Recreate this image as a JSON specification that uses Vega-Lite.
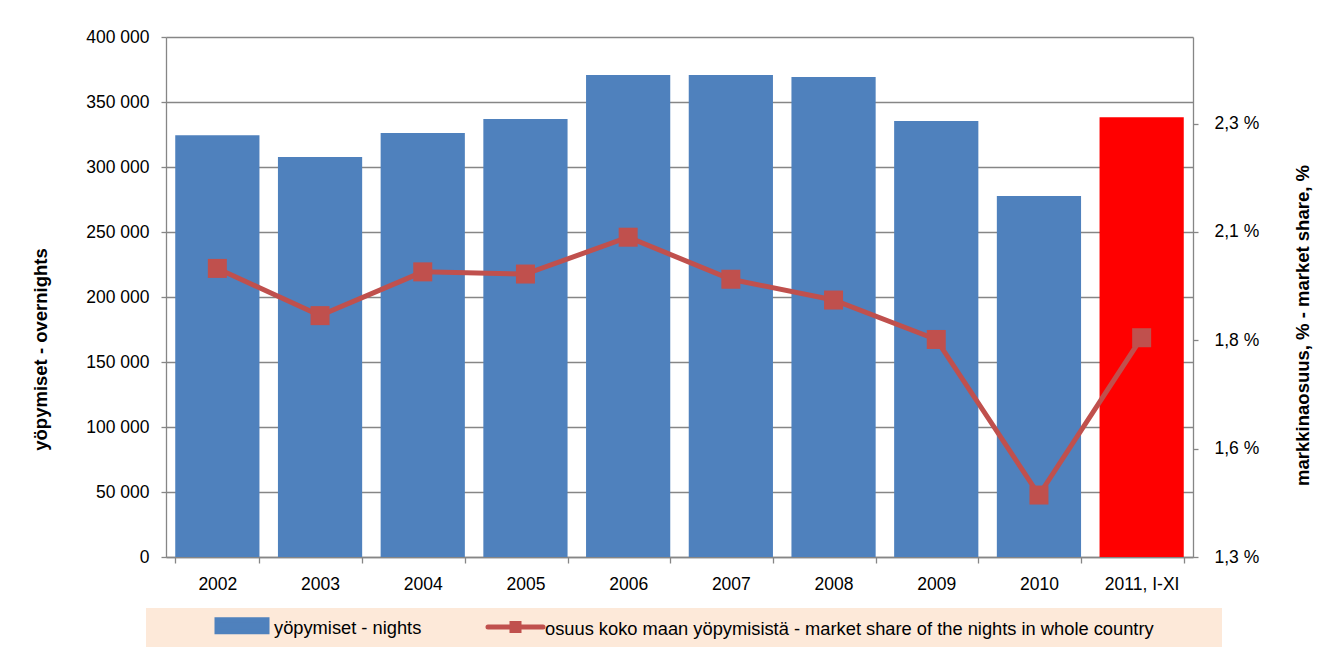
{
  "$schema": "https://vega.github.io/schema/vega-lite/v6.json",
  "width": 1027,
  "height": 520,
  "autosize": {"type": "none"},
  "padding": {"left": 166, "top": 37, "right": 142, "bottom": 102},
  "background": "white",
  "data": {
    "values": [
      {"year": "2002", "nights": 324500, "share": 1.966},
      {"year": "2003", "nights": 307700, "share": 1.857},
      {"year": "2004", "nights": 326100, "share": 1.958},
      {"year": "2005", "nights": 336900, "share": 1.953},
      {"year": "2006", "nights": 370700, "share": 2.038},
      {"year": "2007", "nights": 370700, "share": 1.941},
      {"year": "2008", "nights": 369200, "share": 1.893},
      {"year": "2009", "nights": 335400, "share": 1.802},
      {"year": "2010", "nights": 277700, "share": 1.443},
      {"year": "2011, I-XI", "nights": 338200, "share": 1.806}
    ]
  },
  "layer": [
    {
      "mark": {"type": "bar"},
      "encoding": {
        "x": {
          "field": "year",
          "type": "nominal",
          "sort": null,
          "scale": {"paddingInner": 0.18, "paddingOuter": 0.09},
          "axis": {
            "title": null,
            "labelAngle": 0,
            "tickBand": "extent",
            "tickSize": 6,
            "labelPadding": 12,
            "grid": false
          }
        },
        "y": {
          "field": "nights",
          "type": "quantitative",
          "scale": {"domain": [0, 400000], "nice": false},
          "axis": {
            "orient": "left",
            "title": "yöpymiset - overnights",
            "values": [0, 50000, 100000, 150000, 200000, 250000, 300000, 350000, 400000],
            "labelExpr": "replace(format(datum.value, ','), ',', ' ')",
            "grid": true,
            "tickSize": 5,
            "labelPadding": 12,
            "titleX": -126,
            "titleY": 312,
            "titleAngle": 270,
            "titleBaseline": "middle",
            "titleAlign": "center"
          }
        },
        "color": {
          "condition": {"test": "datum.year === '2011, I-XI'", "value": "#FF0000"},
          "datum": "yöpymiset - nights",
          "type": "nominal",
          "scale": {
            "domain": ["yöpymiset - nights", "osuus koko maan yöpymisistä - market share of the nights in whole country"],
            "range": ["#4F81BD", "#C0504D"]
          },
          "legend": {
            "title": "\u00a0",
            "titleOrient": "right",
            "titlePadding": 63,
            "titleFontSize": 18,
            "orient": "none",
            "legendX": -20,
            "legendY": 571,
            "direction": "horizontal",
            "columns": 2,
            "columnPadding": 0,
            "padding": 5,
            "fillColor": "#FDE9D9",
            "strokeColor": null,
            "labelFontSize": 18.3,
            "labelColor": "#000000",
            "labelLimit": 1000,
            "symbolSize": 400,
            "symbolOffset": 81,
            "labelOffset": 17,
            "encode": {
              "labels": {"update": {"dy": {"value": 3}}},
              "symbols": {
                "update": {
                  "shape": {"signal": "datum.value === 'yöpymiset - nights' ? 'M-2.75,-0.6H2.25V0.6H-2.75Z' : 'M-2.75,0H2.75M-0.35,-0.35H0.35V0.35H-0.35Z'"},
                  "fill": {"signal": "datum.value === 'yöpymiset - nights' ? '#4F81BD' : '#C0504D'"},
                  "stroke": {"signal": "datum.value === 'yöpymiset - nights' ? 'transparent' : '#C0504D'"},
                  "strokeWidth": {"value": 5},
                  "strokeCap": {"value": "round"},
                  "opacity": {"value": 1},
                  "fillOpacity": {"value": 1},
                  "strokeOpacity": {"value": 1}
                }
              }
            }
          }
        }
      }
    },
    {
      "mark": {
        "type": "line",
        "strokeWidth": 5,
        "point": {"shape": "square", "size": 361, "filled": true, "opacity": 1}
      },
      "encoding": {
        "x": {"field": "year", "type": "nominal", "sort": null},
        "y": {
          "field": "share",
          "type": "quantitative",
          "scale": {"domain": [1.3, 2.5], "nice": false, "zero": false},
          "axis": {
            "orient": "right",
            "title": "markkinaosuus, % - market share, %",
            "values": [1.3, 1.55001, 1.8, 2.05001, 2.3],
            "labelExpr": "replace(format(datum.value, '.1f'), '.', ',') + ' %'",
            "grid": false,
            "tickSize": 5,
            "labelPadding": 16,
            "titleX": 109,
            "titleY": 288,
            "titleAngle": 270,
            "titleBaseline": "middle",
            "titleAlign": "center"
          }
        },
        "color": {
          "datum": "osuus koko maan yöpymisistä - market share of the nights in whole country",
          "type": "nominal"
        }
      }
    }
  ],
  "resolve": {"scale": {"y": "independent"}, "axis": {"y": "independent"}},
  "config": {
    "font": "Liberation Sans",
    "view": {"stroke": null},
    "axis": {
      "labelFontSize": 17.5,
      "labelColor": "#000000",
      "labelFont": "Liberation Sans",
      "titleFont": "Liberation Sans",
      "titleFontSize": 18.5,
      "titleFontWeight": "bold",
      "titleColor": "#000000",
      "domainColor": "#868686",
      "domainWidth": 1.3,
      "tickColor": "#868686",
      "tickWidth": 1.3,
      "gridColor": "#868686",
      "gridWidth": 1.3
    },
    "legend": {"labelFont": "Liberation Sans", "titleFont": "Liberation Sans"}
  }
}
